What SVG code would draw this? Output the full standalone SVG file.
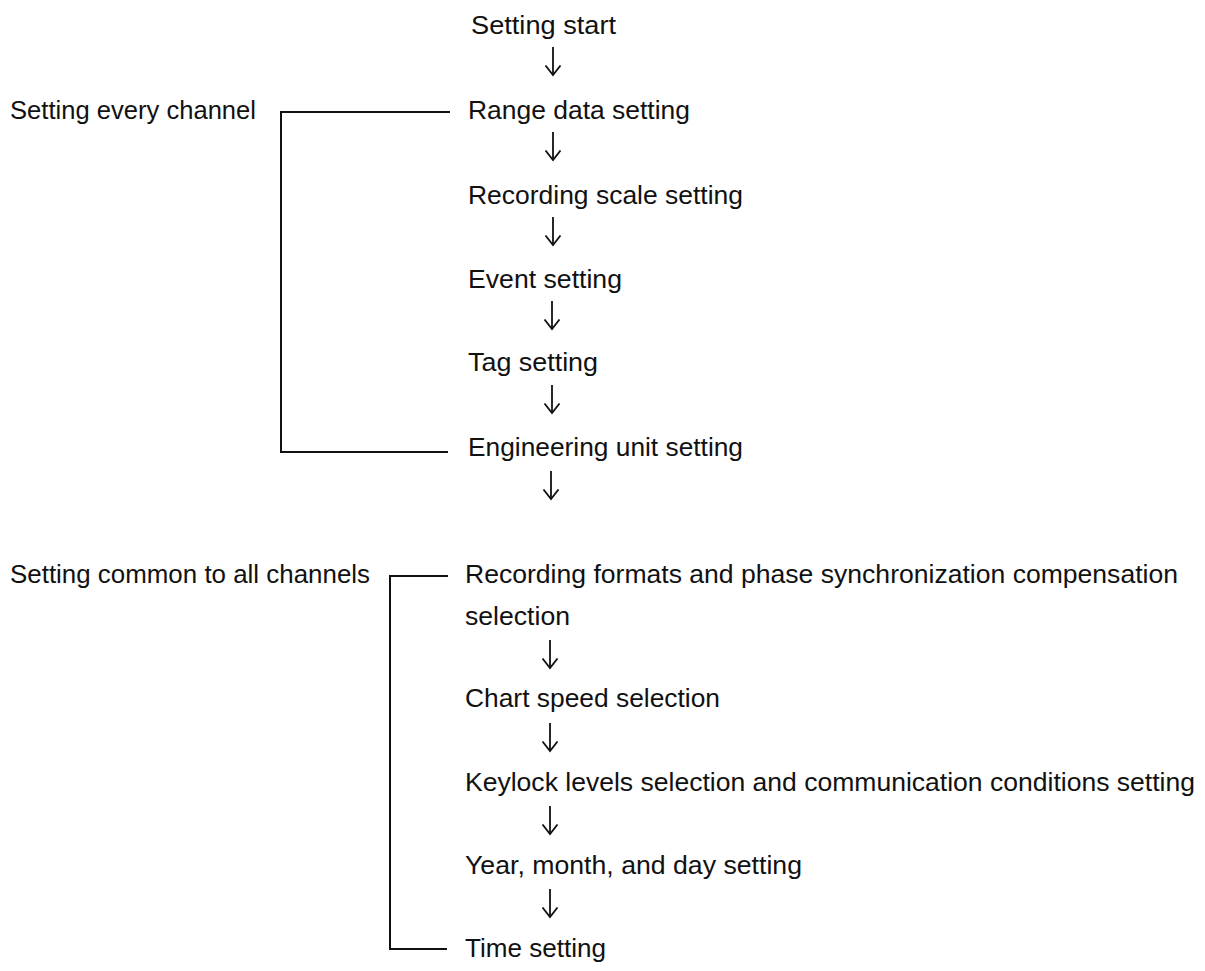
<svg xmlns="http://www.w3.org/2000/svg" width="1205" height="971" viewBox="0 0 1205 971">
<style>
text{font-family:"Liberation Sans",Arial,sans-serif;font-size:26px;fill:#111}
.br{fill:none;stroke:#111;stroke-width:2}
.ar{fill:none;stroke:#111;stroke-width:1.8}
</style>
<defs>
<marker id="v" viewBox="0 0 12 18" refX="10.5" refY="9" markerWidth="12" markerHeight="18" markerUnits="userSpaceOnUse" orient="auto">
<path d="M1,1.5 L10.5,9 L1,16.5" fill="none" stroke="#111" stroke-width="1.8"/>
</marker>
</defs>
<rect width="1205" height="971" fill="#fff"/>
<g id="labels">
<text x="10" y="119" textLength="246" lengthAdjust="spacingAndGlyphs">Setting every channel</text>
<text x="10" y="583" textLength="360" lengthAdjust="spacingAndGlyphs">Setting common to all channels</text>
</g>
<g id="n-start"><text x="471" y="34" textLength="145" lengthAdjust="spacingAndGlyphs">Setting start</text></g>
<g id="n-range"><text x="468" y="119" textLength="222" lengthAdjust="spacingAndGlyphs">Range data setting</text></g>
<g id="n-scale"><text x="468" y="204" textLength="275" lengthAdjust="spacingAndGlyphs">Recording scale setting</text></g>
<g id="n-event"><text x="468" y="288" textLength="154" lengthAdjust="spacingAndGlyphs">Event setting</text></g>
<g id="n-tag"><text x="468" y="371" textLength="130" lengthAdjust="spacingAndGlyphs">Tag setting</text></g>
<g id="n-eng"><text x="468" y="456" textLength="275" lengthAdjust="spacingAndGlyphs">Engineering unit setting</text></g>
<g id="n-format"><text x="465" y="583" textLength="713" lengthAdjust="spacingAndGlyphs">Recording formats and phase synchronization compensation</text>
<text x="465" y="625" textLength="105" lengthAdjust="spacingAndGlyphs">selection</text></g>
<g id="n-chart"><text x="465" y="707" textLength="255" lengthAdjust="spacingAndGlyphs">Chart speed selection</text></g>
<g id="n-keylock"><text x="465" y="791" textLength="730" lengthAdjust="spacingAndGlyphs">Keylock levels selection and communication conditions setting</text></g>
<g id="n-date"><text x="465" y="874" textLength="337" lengthAdjust="spacingAndGlyphs">Year, month, and day setting</text></g>
<g id="n-time"><text x="465" y="957" textLength="141" lengthAdjust="spacingAndGlyphs">Time setting</text></g>
<g id="connectors">
<path class="br" d="M450,112 H281 V452 H448"/>
<path class="br" d="M448,576 H390 V949 H447"/>
<g class="ar">
<path d="M553,47 V75" marker-end="url(#v)"/>
<path d="M553,132 V160" marker-end="url(#v)"/>
<path d="M553,217 V245" marker-end="url(#v)"/>
<path d="M552,301 V329" marker-end="url(#v)"/>
<path d="M552,385 V413" marker-end="url(#v)"/>
<path d="M551,471 V499" marker-end="url(#v)"/>
<path d="M550,640 V668" marker-end="url(#v)"/>
<path d="M550,723 V751" marker-end="url(#v)"/>
<path d="M550,806 V834" marker-end="url(#v)"/>
<path d="M550,889 V917" marker-end="url(#v)"/>
</g>
</g>
</svg>
